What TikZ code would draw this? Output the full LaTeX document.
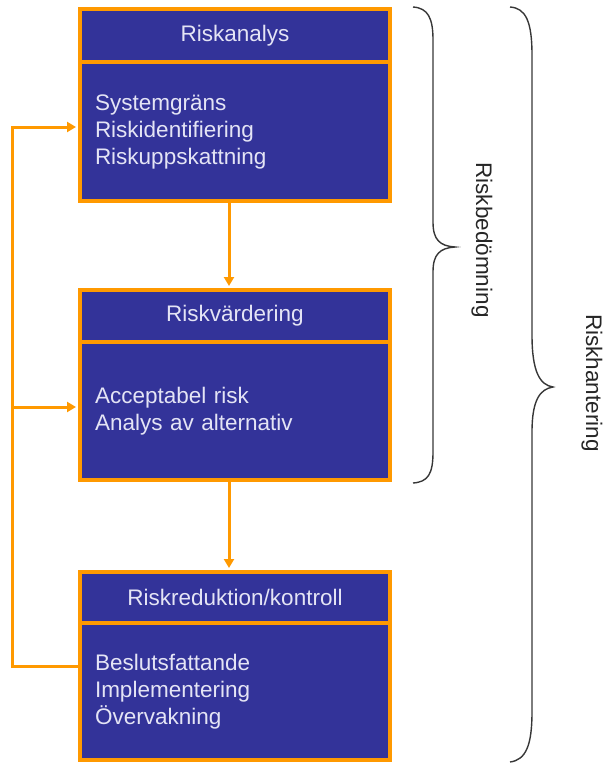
\documentclass[tikz,border=0pt]{standalone}
\usepackage{fontspec}
\setmainfont{Liberation Sans}
\usetikzlibrary{arrows.meta,calc}
\definecolor{boxblue}{RGB}{51,51,153}
\definecolor{boxorange}{RGB}{255,153,0}
\definecolor{boxtext}{RGB}{228,228,245}
\definecolor{bracegray}{RGB}{55,55,55}
\tikzset{
 hdr/.style={draw=boxorange, line width=4pt, fill=boxblue, text=boxtext, minimum width=310pt, inner sep=0pt, font=\fontsize{22.5}{27}\selectfont},
 body/.style={draw=boxorange, line width=4pt, fill=boxblue, text=boxtext, text width=280pt, inner xsep=15pt, inner ysep=0pt, align=left, font=\fontsize{22.5}{27}\selectfont},
 conn/.style={draw=boxorange, line width=3pt},
 arr/.style={conn, -{Triangle[length=9pt,width=10pt]}, shorten >=2pt},
 brace/.style={draw=bracegray, line width=1.4pt},
 side/.style={rotate=-90, font=\fontsize{22.5}{25}\selectfont, text=black!85}
}
\begin{document}
\begin{tikzpicture}[x=1pt,y=-1pt]
\useasboundingbox (0,0) rectangle (607,764);
% boxes
\node[hdr, minimum height=53pt] (h1) at (235,35.5) {Riskanalys};
\node[body, minimum height=139pt] (b1) at (235,131.5) {Systemgräns\\Riskidentifiering\\Riskuppskattning};
\node[hdr, minimum height=52pt] (h2) at (235,316) {Riskvärdering};
\node[body, minimum height=138pt] (b2) at (235,411) {Acceptabel risk\\Analys av alternativ};
\node[hdr, minimum height=51pt] (h3) at (235,597.5) {Riskreduktion/kontroll};
\node[body, minimum height=137pt] (b3) at (235,691.5) {Beslutsfattande\\Implementering\\Övervakning};
% forward arrows
\draw[arr] ([xshift=-6pt]b1.south) -- ([xshift=-6pt]h2.north);
\draw[arr] ([xshift=-6pt]b2.south) -- ([xshift=-6pt]h3.north);
% feedback loop
\coordinate (b2in) at ($(b2.west)+(0,-4)$);
\draw[arr] ([yshift=25.5pt]b3.west) -- ++(-66,0) coordinate (lpb) |- ([yshift=4.5pt]b1.west);
\draw[arr] (lpb |- b2in) -- (b2in);
% braces
\draw[brace] (413,7) .. controls (428,8) and (433,18) .. (433,40) -- (433,222)
  .. controls (433,240) and (440,246) .. (455,247)
  .. controls (440,248) and (433,254) .. (433,272) -- (433,452)
  .. controls (433,474) and (428,482) .. (413,483);
\draw[brace] (510,7) .. controls (526,8) and (532,22) .. (532,55) -- (532,335)
  .. controls (532,372) and (540,385) .. (553,387)
  .. controls (540,389) and (532,400) .. (532,432) -- (532,712)
  .. controls (532,745) and (526,760) .. (510,762);
\node[side] (l1) at (482,240) {Riskbedömning};
\node[side] (l2) at (592,383) {Riskhantering};
\end{tikzpicture}
\end{document}
